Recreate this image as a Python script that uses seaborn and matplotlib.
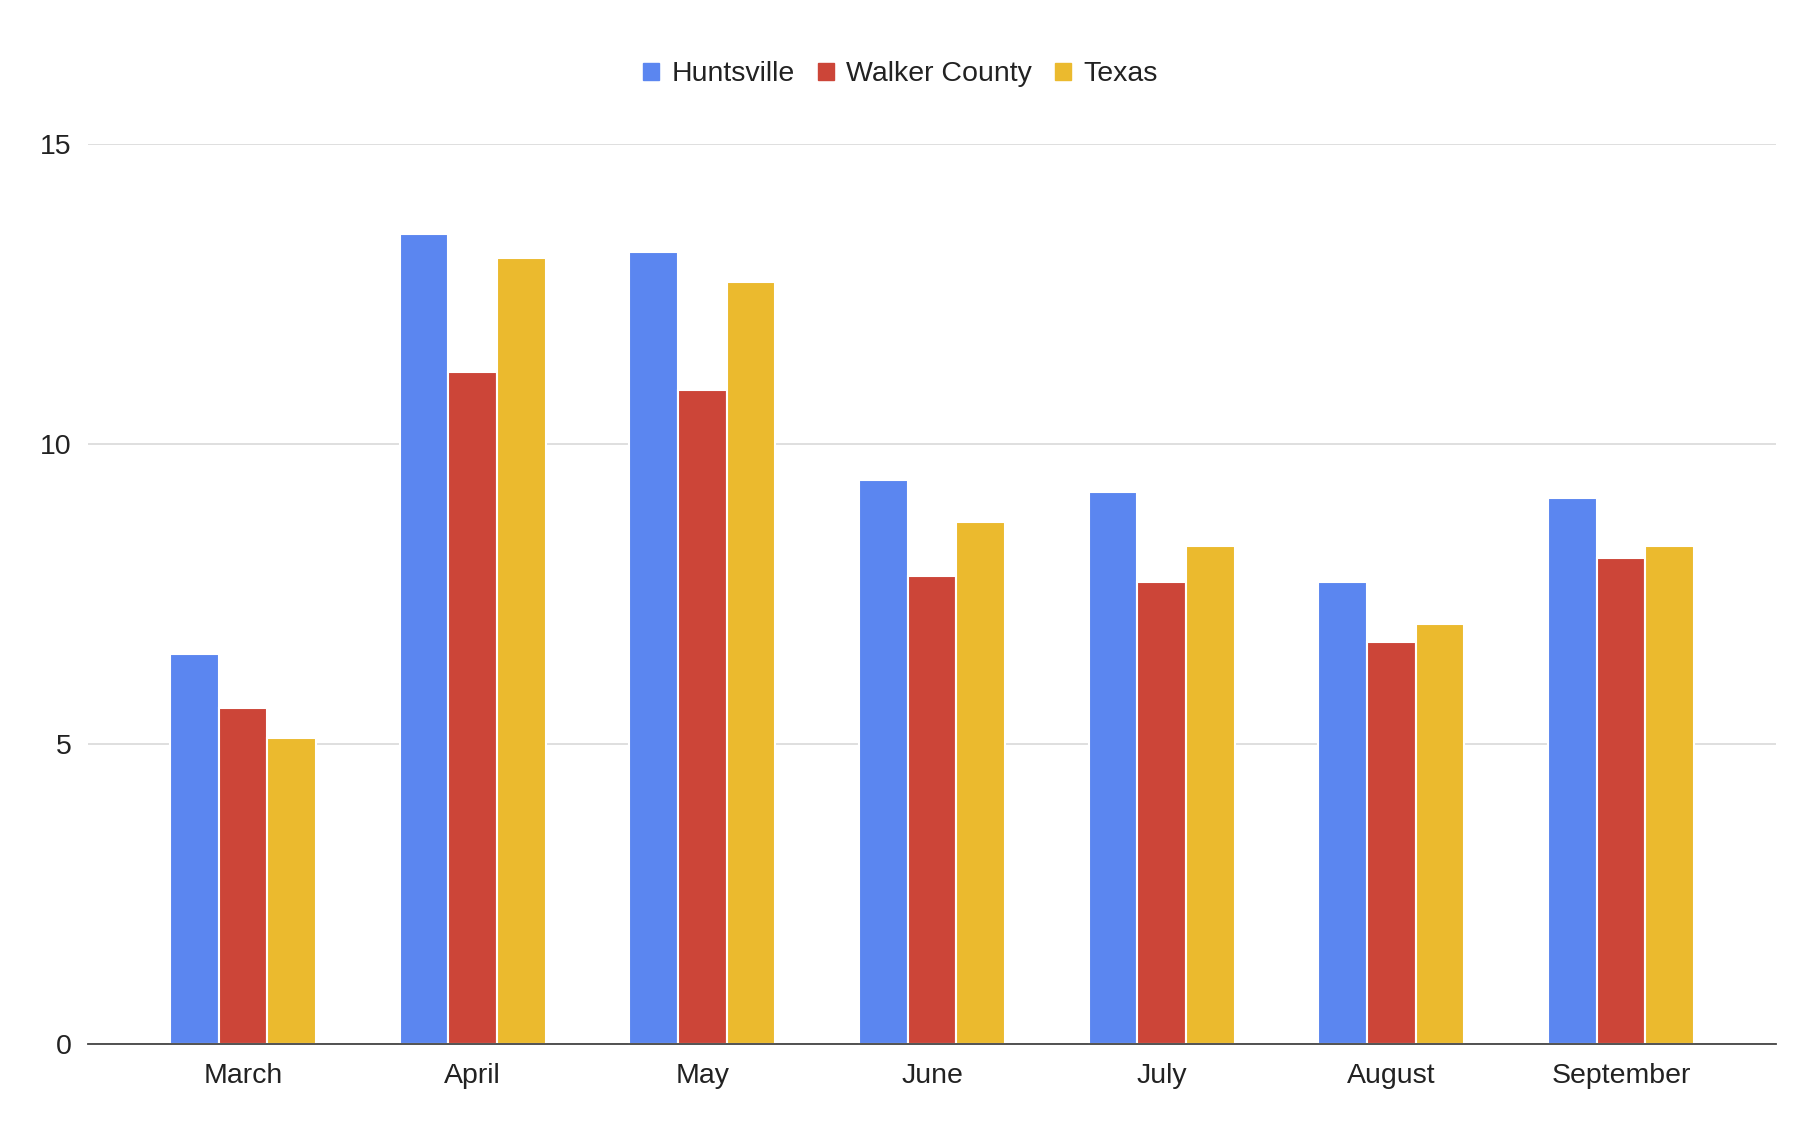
import pandas as pd
import seaborn as sns
import matplotlib.pyplot as plt

months = ["March", "April", "May", "June", "July", "August", "September"]
huntsville = [6.5, 13.5, 13.2, 9.4, 9.2, 7.7, 9.1]
walker_county = [5.6, 11.2, 10.9, 7.8, 7.7, 6.7, 8.1]
texas = [5.1, 13.1, 12.7, 8.7, 8.3, 7.0, 8.3]
series_names = ["Huntsville", "Walker County", "Texas"]
cores = ["#5B86F0", "#CC4538", "#EBBA2E"]

tabela = pd.DataFrame({
    "mes": months * 3,
    "valor": huntsville + walker_county + texas,
    "serie": [s for s in series_names for _ in months],
})

sns.set_style("white")
plt.rcParams["font.family"] = ["Liberation Sans", "DejaVu Sans"]

fig = plt.figure(figsize=(18.16, 11.42), dpi=100)
ax = fig.add_axes([0.0485, 0.0858, 0.9295, 0.788])

sns.barplot(data=tabela, x="mes", y="valor", hue="serie", order=months,
            hue_order=series_names, palette=cores, width=0.635,
            edgecolor="white", linewidth=1.5, saturation=1, ax=ax)

ax.set_xlim(-0.675, 6.675)
ax.set_ylim(0, 15)
ax.set_yticks([0, 5, 10, 15])
ax.set_yticklabels(["0", "5", "10", "15"])
ax.yaxis.grid(True, color="#d9d9d9", linewidth=1.2)
ax.set_axisbelow(True)
for lado in ["top", "right", "left"]:
    ax.spines[lado].set_visible(False)
ax.spines["bottom"].set_color("#444444")
ax.spines["bottom"].set_linewidth(1.3)
ax.spines["bottom"].set_zorder(5)
ax.tick_params(axis="both", length=0, labelsize=20.5, colors="#222222")
ax.tick_params(axis="y", pad=12)
ax.tick_params(axis="x", pad=14)
ax.set_xlabel("")
ax.set_ylabel("")

ax.get_legend().remove()
handles = [plt.Rectangle((0, 0), 1, 1, color=c) for c in cores]
fig.legend(handles, series_names, loc="center", bbox_to_anchor=(0.496, 0.935),
           ncol=3, frameon=False, fontsize=20.5, handlelength=0.55, handleheight=0.55,
           handletextpad=0.45, columnspacing=0.8, labelcolor="#222222")

plt.savefig("out.png", format="png", dpi=100)
plt.close()
